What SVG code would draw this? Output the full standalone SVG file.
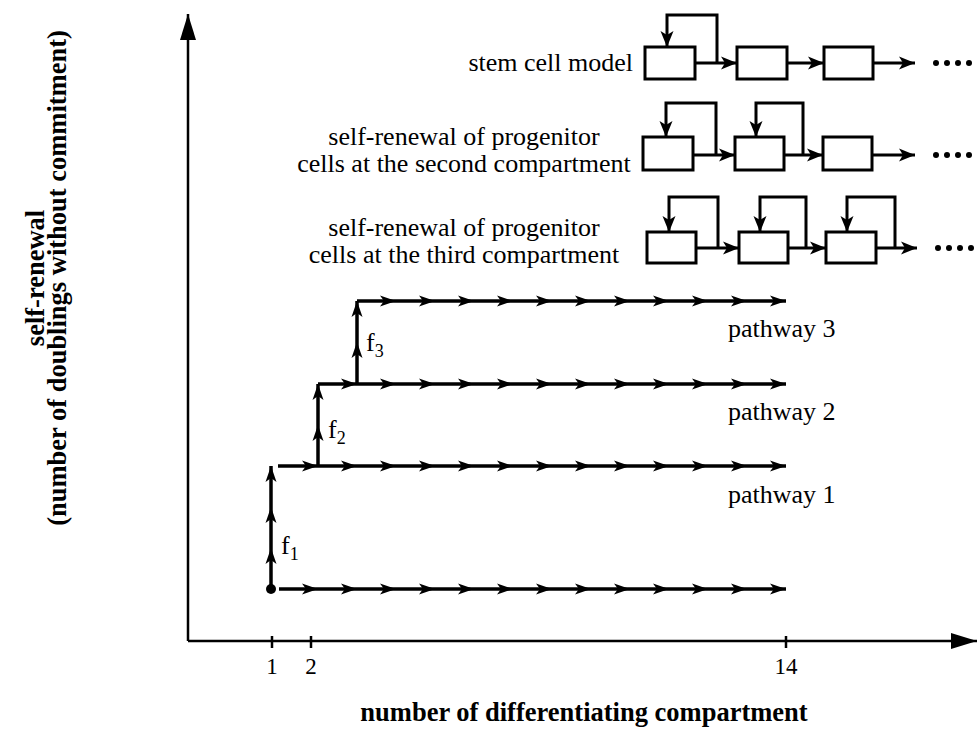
<svg xmlns="http://www.w3.org/2000/svg" width="977" height="731" viewBox="0 0 977 731">
<style>
.ln{stroke:#000;stroke-width:3.5;fill:none;marker-end:url(#ah)}
.tl{stroke:#000;stroke-width:3;fill:none;marker-end:url(#ah2)}
.box{fill:#fff;stroke:#000;stroke-width:3}
.ax{stroke:#000;stroke-width:2.5;fill:none}
.t{font-family:"Liberation Serif","Times New Roman",serif;font-size:26px;fill:#000}
.tk{font-family:"Liberation Serif","Times New Roman",serif;font-size:23px;fill:#000}
.b{font-family:"Liberation Serif","Times New Roman",serif;font-size:26.5px;font-weight:bold;fill:#000}
.dot{fill:#000}
</style>
<defs>
<marker id="ah" markerUnits="userSpaceOnUse" markerWidth="16" markerHeight="12" refX="16" refY="6" orient="auto">
<path d="M0,0.5 L16,6 L0,11.5 L4,6 z" fill="#000"/>
</marker>
<marker id="ah2" markerUnits="userSpaceOnUse" markerWidth="16" markerHeight="14" refX="16" refY="7" orient="auto">
<path d="M0,0.5 L16,7 L0,13.5 L4,7 z" fill="#000"/>
</marker>
<marker id="axh" markerUnits="userSpaceOnUse" markerWidth="26" markerHeight="16" refX="26" refY="8" orient="auto">
<path d="M0,0 L26,8 L0,16 z" fill="#000"/>
</marker>
</defs>

<g id="axes">
<line class="ax" x1="188" y1="641" x2="188" y2="14" marker-end="url(#axh)"/>
<line class="ax" x1="188" y1="641" x2="977" y2="641" marker-end="url(#axh)"/>
<line class="ax" x1="272" y1="636" x2="272" y2="648"/>
<line class="ax" x1="311" y1="636" x2="311" y2="648"/>
<line class="ax" x1="786" y1="636" x2="786" y2="648"/>
<text class="tk" x="272" y="674" text-anchor="middle">1</text>
<text class="tk" x="311" y="674" text-anchor="middle">2</text>
<text class="tk" x="786" y="674" text-anchor="middle">14</text>
<text class="b" x="584" y="721" text-anchor="middle">number of differentiating compartment</text>
<text class="b" transform="translate(44,278) rotate(-90)" text-anchor="middle">self-renewal</text>
<text class="b" transform="translate(66,278) rotate(-90)" text-anchor="middle">(number of doublings without commitment)</text>
</g>

<g id="connectors">
<line class="ln" x1="279" y1="589" x2="318" y2="589"/>
<line class="ln" x1="318" y1="589" x2="357" y2="589"/>
<line class="ln" x1="357" y1="589" x2="396" y2="589"/>
<line class="ln" x1="396" y1="589" x2="435" y2="589"/>
<line class="ln" x1="435" y1="589" x2="474" y2="589"/>
<line class="ln" x1="474" y1="589" x2="513" y2="589"/>
<line class="ln" x1="513" y1="589" x2="552" y2="589"/>
<line class="ln" x1="552" y1="589" x2="591" y2="589"/>
<line class="ln" x1="591" y1="589" x2="630" y2="589"/>
<line class="ln" x1="630" y1="589" x2="669" y2="589"/>
<line class="ln" x1="669" y1="589" x2="708" y2="589"/>
<line class="ln" x1="708" y1="589" x2="747" y2="589"/>
<line class="ln" x1="747" y1="589" x2="786" y2="589"/>
<line class="ln" x1="278" y1="466" x2="318" y2="466"/>
<line class="ln" x1="318" y1="466" x2="357" y2="466"/>
<line class="ln" x1="357" y1="466" x2="396" y2="466"/>
<line class="ln" x1="396" y1="466" x2="435" y2="466"/>
<line class="ln" x1="435" y1="466" x2="474" y2="466"/>
<line class="ln" x1="474" y1="466" x2="513" y2="466"/>
<line class="ln" x1="513" y1="466" x2="552" y2="466"/>
<line class="ln" x1="552" y1="466" x2="591" y2="466"/>
<line class="ln" x1="591" y1="466" x2="630" y2="466"/>
<line class="ln" x1="630" y1="466" x2="669" y2="466"/>
<line class="ln" x1="669" y1="466" x2="708" y2="466"/>
<line class="ln" x1="708" y1="466" x2="747" y2="466"/>
<line class="ln" x1="747" y1="466" x2="786" y2="466"/>
<line class="ln" x1="318" y1="384" x2="357" y2="384"/>
<line class="ln" x1="357" y1="384" x2="396" y2="384"/>
<line class="ln" x1="396" y1="384" x2="435" y2="384"/>
<line class="ln" x1="435" y1="384" x2="474" y2="384"/>
<line class="ln" x1="474" y1="384" x2="513" y2="384"/>
<line class="ln" x1="513" y1="384" x2="552" y2="384"/>
<line class="ln" x1="552" y1="384" x2="591" y2="384"/>
<line class="ln" x1="591" y1="384" x2="630" y2="384"/>
<line class="ln" x1="630" y1="384" x2="669" y2="384"/>
<line class="ln" x1="669" y1="384" x2="708" y2="384"/>
<line class="ln" x1="708" y1="384" x2="747" y2="384"/>
<line class="ln" x1="747" y1="384" x2="786" y2="384"/>
<line class="ln" x1="357" y1="301" x2="396" y2="301"/>
<line class="ln" x1="396" y1="301" x2="435" y2="301"/>
<line class="ln" x1="435" y1="301" x2="474" y2="301"/>
<line class="ln" x1="474" y1="301" x2="513" y2="301"/>
<line class="ln" x1="513" y1="301" x2="552" y2="301"/>
<line class="ln" x1="552" y1="301" x2="591" y2="301"/>
<line class="ln" x1="591" y1="301" x2="630" y2="301"/>
<line class="ln" x1="630" y1="301" x2="669" y2="301"/>
<line class="ln" x1="669" y1="301" x2="708" y2="301"/>
<line class="ln" x1="708" y1="301" x2="747" y2="301"/>
<line class="ln" x1="747" y1="301" x2="786" y2="301"/>
<line class="ln" x1="271" y1="589" x2="271" y2="548"/>
<line class="ln" x1="271" y1="548" x2="271" y2="507"/>
<line class="ln" x1="271" y1="507" x2="271" y2="466"/>
<line class="ln" x1="318" y1="466" x2="318" y2="425"/>
<line class="ln" x1="318" y1="425" x2="318" y2="384"/>
<line class="ln" x1="357" y1="384" x2="357" y2="342"/>
<line class="ln" x1="357" y1="342" x2="357" y2="301"/>
<line class="tl" x1="695" y1="63" x2="737" y2="63"/>
<polyline class="tl" points="717,63 717,15 667,15 667,47"/>
<line class="tl" x1="787" y1="63" x2="824" y2="63"/>
<line class="tl" x1="873" y1="63" x2="915" y2="63"/>
<line class="tl" x1="693" y1="155" x2="735" y2="155"/>
<polyline class="tl" points="716,155 716,103 666,103 666,137"/>
<line class="tl" x1="784" y1="155" x2="823" y2="155"/>
<polyline class="tl" points="803,155 803,103 756,103 756,137"/>
<line class="tl" x1="872" y1="155" x2="915" y2="155"/>
<line class="tl" x1="696" y1="248" x2="739" y2="248"/>
<polyline class="tl" points="718,248 718,197 669,197 669,232"/>
<line class="tl" x1="788" y1="248" x2="826" y2="248"/>
<polyline class="tl" points="806,248 806,197 760,197 760,232"/>
<line class="tl" x1="876" y1="248" x2="917" y2="248"/>
<polyline class="tl" points="895,248 895,197 847,197 847,232"/>
</g>

<g id="origin"><circle class="dot" cx="271" cy="589" r="5"/></g>

<g id="labels">
<text class="t" x="281" y="554">f<tspan font-size="18" dy="6">1</tspan></text>
<text class="t" x="328" y="438">f<tspan font-size="18" dy="6">2</tspan></text>
<text class="t" x="366" y="351">f<tspan font-size="18" dy="6">3</tspan></text>
<text class="t" x="728" y="337" font-size="25">pathway 3</text>
<text class="t" x="728" y="420" font-size="25">pathway 2</text>
<text class="t" x="728" y="503" font-size="25">pathway 1</text>
</g>

<g id="model1">
<text class="t" x="633" y="71" text-anchor="end" font-size="24.5">stem cell model</text>
<rect class="box" x="645" y="47" width="50" height="32"/>
<rect class="box" x="737" y="47" width="50" height="32"/>
<rect class="box" x="824" y="47" width="49" height="32"/>
<circle class="dot" cx="936" cy="63" r="3"/><circle class="dot" cx="947" cy="63" r="3"/><circle class="dot" cx="958" cy="63" r="3"/><circle class="dot" cx="969" cy="63" r="3"/>
</g>

<g id="model2">
<text class="t" x="464" y="145" text-anchor="middle">self-renewal of progenitor</text>
<text class="t" x="464" y="172" text-anchor="middle">cells at the second compartment</text>
<rect class="box" x="643" y="137" width="50" height="33"/>
<rect class="box" x="735" y="137" width="49" height="33"/>
<rect class="box" x="823" y="137" width="49" height="33"/>
<circle class="dot" cx="936" cy="155" r="3"/><circle class="dot" cx="947" cy="155" r="3"/><circle class="dot" cx="958" cy="155" r="3"/><circle class="dot" cx="969" cy="155" r="3"/>
</g>

<g id="model3">
<text class="t" x="464" y="236" text-anchor="middle">self-renewal of progenitor</text>
<text class="t" x="464" y="263" text-anchor="middle">cells at the third compartment</text>
<rect class="box" x="647" y="232" width="49" height="31"/>
<rect class="box" x="739" y="232" width="49" height="31"/>
<rect class="box" x="826" y="232" width="50" height="31"/>
<circle class="dot" cx="938" cy="248" r="3"/><circle class="dot" cx="949" cy="248" r="3"/><circle class="dot" cx="960" cy="248" r="3"/><circle class="dot" cx="971" cy="248" r="3"/>
</g>
</svg>
